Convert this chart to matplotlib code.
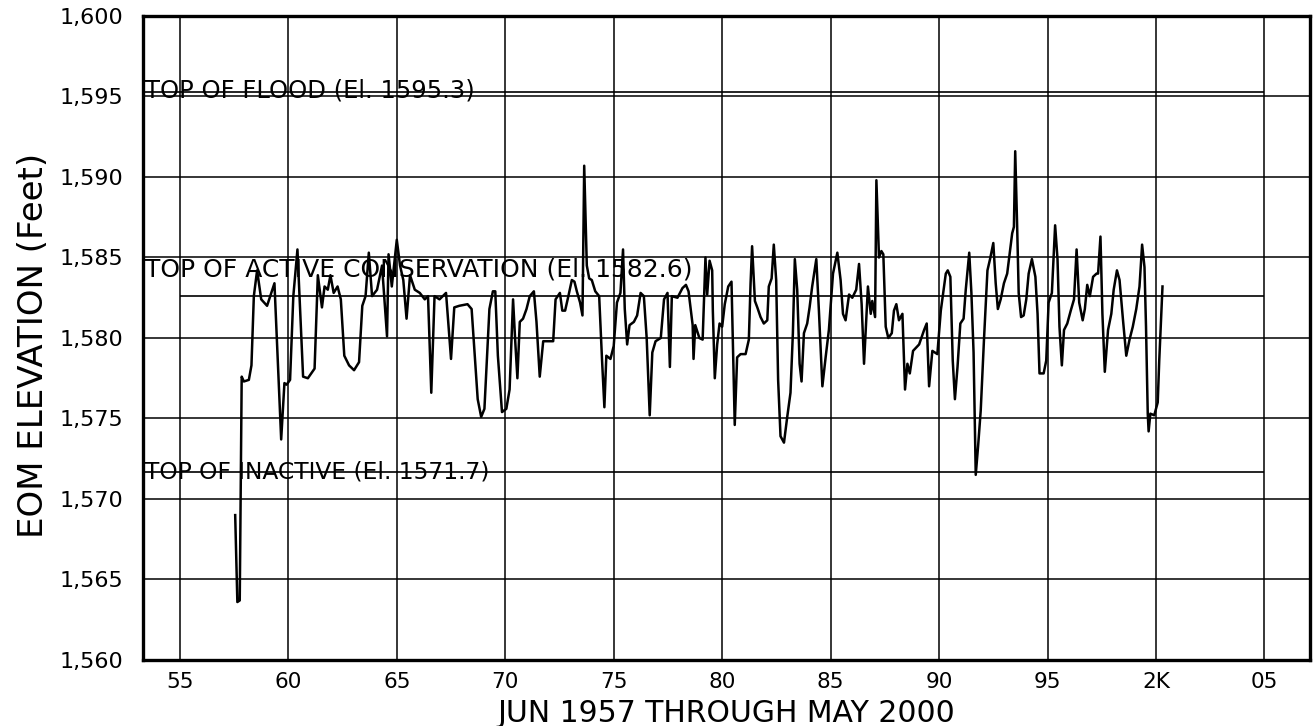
import matplotlib
matplotlib.use("Agg")
import matplotlib.pyplot as plt
from matplotlib.ticker import FuncFormatter

plt.rcParams["font.family"] = "DejaVu Sans"

# End-of-month elevation (decimal year, feet)
years = [
    1957.55, 1957.65, 1957.76, 1957.85, 1957.95, 1958.18, 1958.30, 1958.41, 1958.56, 1958.75,
    1959.02, 1959.36, 1959.67, 1959.82, 1959.92, 1960.08, 1960.23, 1960.42, 1960.68, 1960.90,
    1961.21, 1961.36, 1961.55, 1961.67, 1961.82, 1961.94, 1962.09, 1962.27, 1962.42, 1962.58,
    1962.80, 1963.03, 1963.26, 1963.41, 1963.56, 1963.71, 1963.86, 1964.09, 1964.32, 1964.55,
    1964.62, 1964.77, 1965.00, 1965.15, 1965.30, 1965.45, 1965.61, 1965.83, 1966.06, 1966.29,
    1966.44, 1966.59, 1966.74, 1966.97, 1967.27, 1967.50, 1967.65, 1967.88, 1968.26,
    1968.45, 1968.73, 1968.89, 1969.04, 1969.27, 1969.43, 1969.54, 1969.66, 1969.85, 1970.05,
    1970.20, 1970.36, 1970.46, 1970.56, 1970.67, 1970.82, 1970.98, 1971.13, 1971.32, 1971.44,
    1971.59, 1971.75, 1971.98, 1972.21, 1972.32, 1972.52, 1972.63, 1972.76, 1972.91, 1973.07,
    1973.19, 1973.30, 1973.45, 1973.56, 1973.64, 1973.76, 1973.87, 1973.99, 1974.15, 1974.33,
    1974.46, 1974.57, 1974.66, 1974.85, 1975.00, 1975.15, 1975.31, 1975.43, 1975.51, 1975.62,
    1975.73, 1975.93, 1976.08, 1976.24, 1976.39, 1976.52, 1976.66, 1976.78, 1976.93, 1977.17,
    1977.32, 1977.48, 1977.59, 1977.68, 1977.94, 1978.17, 1978.33, 1978.45, 1978.64, 1978.68,
    1978.76, 1978.95, 1979.10,
    1979.23, 1979.31, 1979.42, 1979.54, 1979.57, 1979.66, 1979.77, 1979.88, 1980.00, 1980.12,
    1980.28, 1980.43, 1980.58, 1980.69, 1980.85, 1981.08, 1981.23, 1981.31, 1981.38, 1981.51,
    1981.62, 1981.77, 1981.92, 1982.08, 1982.15, 1982.28, 1982.38, 1982.49, 1982.58, 1982.69,
    1982.85, 1983.00, 1983.15, 1983.26, 1983.35, 1983.46, 1983.57, 1983.66, 1983.77, 1983.92,
    1984.03, 1984.15, 1984.34, 1984.46, 1984.62, 1984.77, 1984.92, 1985.11, 1985.31, 1985.46,
    1985.57, 1985.69, 1985.85, 1986.00, 1986.18, 1986.31, 1986.43, 1986.54, 1986.65, 1986.72,
    1986.85, 1986.92, 1987.05, 1987.11, 1987.23, 1987.34, 1987.43, 1987.54, 1987.66, 1987.82,
    1987.92, 1988.03, 1988.15, 1988.31, 1988.43, 1988.54, 1988.65, 1988.80, 1989.08, 1989.31,
    1989.43, 1989.54, 1989.69, 1989.92, 1990.08, 1990.31,
    1990.40, 1990.52, 1990.63, 1990.73, 1990.85, 1990.98, 1991.13, 1991.23, 1991.39, 1991.49,
    1991.59, 1991.69, 1991.80, 1991.92, 1992.07, 1992.23, 1992.35, 1992.50, 1992.61, 1992.71,
    1992.84, 1992.99, 1993.14, 1993.26, 1993.37, 1993.45, 1993.51, 1993.60, 1993.67, 1993.78,
    1993.90, 1994.02, 1994.13, 1994.28, 1994.44, 1994.54, 1994.63, 1994.82, 1994.94, 1995.05,
    1995.20, 1995.35, 1995.46, 1995.55, 1995.66, 1995.76, 1995.91, 1996.07, 1996.22, 1996.34,
    1996.46, 1996.62, 1996.72, 1996.83, 1996.95, 1997.10, 1997.26, 1997.33, 1997.44, 1997.53,
    1997.64, 1997.79, 1997.94, 1998.05, 1998.20, 1998.32, 1998.48, 1998.63, 1998.78, 1998.93,
    1999.09, 1999.24, 1999.36, 1999.47, 1999.54, 1999.62, 1999.66, 1999.74, 1999.92, 2000.08,
    2000.15, 2000.30,
]
elevation = [
    1569.0, 1563.6, 1563.7, 1577.6, 1577.3, 1577.4, 1578.3, 1582.6, 1584.2, 1582.4,
    1582.0, 1583.4, 1573.7, 1577.2, 1577.1, 1577.4, 1582.6, 1585.5, 1577.6, 1577.5,
    1578.1, 1583.9, 1581.9, 1583.2, 1583.0, 1583.9, 1582.8, 1583.2, 1582.4, 1578.9,
    1578.3, 1578.0, 1578.5, 1582.0, 1582.6, 1585.3, 1582.6, 1583.0, 1584.5, 1580.1,
    1585.2, 1583.2, 1586.1, 1584.5, 1583.6, 1581.2, 1583.9, 1583.0, 1582.8, 1582.4,
    1582.6, 1576.6, 1582.6, 1582.4, 1582.8, 1578.7, 1581.9, 1582.0, 1582.1,
    1581.8, 1576.2, 1575.1, 1575.6, 1581.8, 1582.9, 1582.9, 1578.9, 1575.4, 1575.6,
    1576.8, 1582.4, 1579.8, 1577.5, 1581.0, 1581.2, 1581.8, 1582.6, 1582.9, 1581.0,
    1577.6, 1579.8, 1579.8, 1579.8, 1582.4, 1582.8, 1581.7, 1581.7, 1582.6, 1583.6,
    1583.5, 1582.9, 1582.2, 1581.4, 1590.7, 1584.5, 1583.7, 1583.6, 1582.9, 1582.6,
    1578.7, 1575.7, 1578.9, 1578.7, 1579.5, 1582.2, 1582.8, 1585.5, 1581.8, 1579.6,
    1580.8, 1581.0, 1581.4, 1582.8, 1582.6, 1580.0, 1575.2, 1579.1, 1579.8, 1580.0,
    1582.4, 1582.8, 1578.2, 1582.6, 1582.5, 1583.1, 1583.3, 1582.9, 1580.8, 1578.7,
    1580.8, 1580.0, 1579.9,
    1585.0, 1582.7, 1584.8, 1584.2, 1581.7, 1577.5, 1579.6, 1580.9, 1580.7, 1582.1,
    1583.2, 1583.5, 1574.6, 1578.8, 1579.0, 1579.0, 1579.9, 1583.4, 1585.7, 1582.3,
    1581.9, 1581.3, 1580.9, 1581.1, 1583.2, 1583.7, 1585.8, 1583.6, 1577.4, 1573.9,
    1573.5, 1575.1, 1576.6, 1580.3, 1584.9, 1583.0, 1578.4, 1577.3, 1580.3, 1580.9,
    1581.9, 1583.2, 1584.9, 1581.7, 1577.0, 1578.8, 1580.5, 1584.0, 1585.3, 1583.6,
    1581.5, 1581.1, 1582.7, 1582.5, 1583.0, 1584.6, 1582.1, 1578.4, 1581.3, 1583.2,
    1581.5, 1582.3, 1581.3, 1589.8, 1585.0, 1585.4, 1585.2, 1580.7, 1580.0, 1580.3,
    1581.7, 1582.1, 1581.1, 1581.5, 1576.8, 1578.4, 1577.8, 1579.2, 1579.6, 1580.5,
    1580.9, 1577.0, 1579.2, 1579.0, 1581.7, 1584.0,
    1584.2, 1583.8, 1578.6, 1576.2, 1578.2, 1580.9, 1581.2, 1583.0, 1585.3, 1582.8,
    1579.1, 1571.5, 1573.3, 1575.5, 1579.9, 1584.2, 1584.9, 1585.9, 1583.4, 1581.8,
    1582.4, 1583.4, 1584.0, 1585.3, 1586.5, 1586.9, 1591.6, 1586.9, 1582.8, 1581.3,
    1581.4, 1582.4, 1584.0, 1584.9, 1583.8, 1581.5, 1577.8, 1577.8, 1578.6, 1582.2,
    1582.8, 1587.0, 1584.9, 1580.7, 1578.3, 1580.5, 1580.9, 1581.7, 1582.4, 1585.5,
    1582.2, 1581.1, 1581.8, 1583.3, 1582.6, 1583.8, 1584.0, 1584.0, 1586.3, 1581.5,
    1577.9, 1580.5, 1581.5, 1583.0, 1584.2, 1583.6, 1581.1, 1578.9, 1579.9, 1580.7,
    1581.8, 1583.2, 1585.8, 1584.4, 1580.7, 1575.3, 1574.2, 1575.3, 1575.2, 1576.0,
    1578.6, 1583.2,
]

pool_names = ["TOP OF FLOOD (El. 1595.3)",
              "TOP OF ACTIVE CONSERVATION (El. 1582.6)",
              "TOP OF INACTIVE (El. 1571.7)"]
pool_levels = [1595.3, 1582.6, 1571.7]
pool_start = [1953.4, 1955.0, 1953.4]
pool_end = 2005.0

tick_years = [1955, 1960, 1965, 1970, 1975, 1980, 1985, 1990, 1995, 2000, 2005]
tick_labels = ["55", "60", "65", "70", "75", "80", "85", "90", "95", "2K", "05"]

fig = plt.figure(figsize=(13.16, 7.26), dpi=100)
ax = fig.add_axes([143 / 1316, 1 - 660 / 726, 1167 / 1316, 644 / 726])

ax.plot(years, elevation, color="black", linewidth=1.8, zorder=3)

# pool levels, label drawn right over each line
label_offsets = [-0.35, 1.2, -0.45]
label_sizes = [17.5, 18, 16.8]
for name, level, x0, dy, fs in zip(pool_names, pool_levels, pool_start, label_offsets, label_sizes):
    ax.hlines(level, x0, pool_end, color="black", linewidth=1.2, zorder=2)
    ax.text(1953.4, level + dy, name, fontsize=fs, va="baseline", ha="left", zorder=4)

ax.set_xlim(1953.3, 2007.1)
ax.set_ylim(1560, 1600)
ax.set_xticks(tick_years)
ax.set_xticklabels(tick_labels)
ax.set_yticks(range(1560, 1601, 5))
ax.yaxis.set_major_formatter(FuncFormatter(lambda v, p: f"{v:,.0f}"))
ax.grid(True, color="black", linewidth=1.1)
ax.set_axisbelow(True)
ax.tick_params(axis="y", length=0, labelsize=16, pad=14)
ax.tick_params(axis="x", length=0, labelsize=15.5, pad=9)
for s in ax.spines.values():
    s.set_linewidth(2.4)

ax.set_xlabel("JUN 1957 THROUGH MAY 2000", fontsize=21.5)
ax.xaxis.set_label_coords(0.5, -0.060)
ax.set_ylabel("EOM ELEVATION (Feet)", fontsize=24.5)
ax.yaxis.set_label_coords(-0.080, 0.488)

fig.savefig("out.png", dpi=100)
